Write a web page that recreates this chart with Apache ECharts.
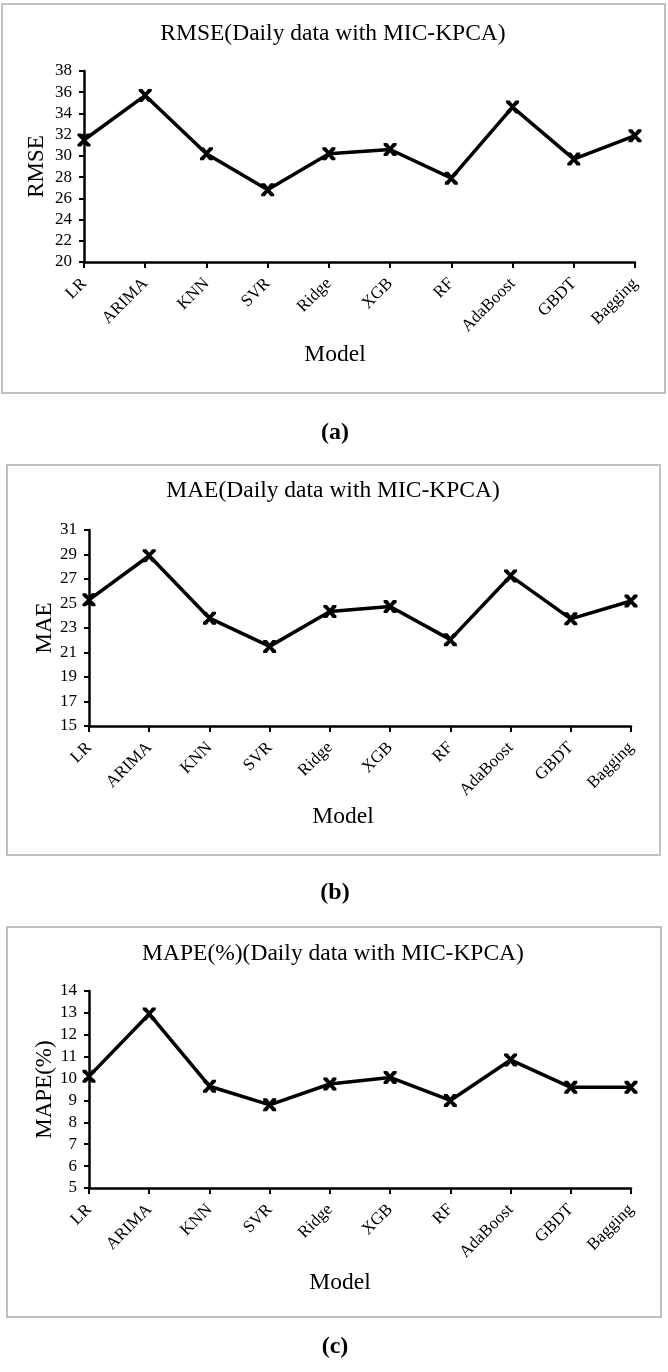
<!DOCTYPE html>
<html>
<head>
<meta charset="utf-8">
<script src="https://cdn.jsdelivr.net/npm/echarts@6/dist/echarts.min.js"></script>
<style>
html,body{margin:0;padding:0;background:#fff;}
#chart{width:668px;height:1372px;}
</style>
</head>
<body>
<div id="chart"></div>
<script>
// ---- data ----
const models = ['LR','ARIMA','KNN','SVR','Ridge','XGB','RF','AdaBoost','GBDT','Bagging'];
const rmse = [31.5, 35.7, 30.2, 26.8, 30.2, 30.6, 27.9, 34.6, 29.7, 31.9];
const mae  = [25.3, 28.9, 23.8, 21.5, 24.35, 24.75, 22.05, 27.25, 23.75, 25.2];
const mape = [10.1, 12.95, 9.65, 8.8, 9.75, 10.05, 9.0, 10.85, 9.6, 9.6];
const rmseTicks = [20,22,24,26,28,30,32,34,36,38];
const maeTicks  = [15,17,19,21,23,25,27,29,31];
const mapeTicks = [5,6,7,8,9,10,11,12,13,14];
const titles = ['RMSE(Daily data with MIC-KPCA)','MAE(Daily data with MIC-KPCA)','MAPE(%)(Daily data with MIC-KPCA)'];
const yNames = ['RMSE','MAE','MAPE(%)'];
const xName = 'Model';
const captions = ['(a)','(b)','(c)'];

const FONT = '"Liberation Serif","Times New Roman",serif';
const xMark = 'path://M0,0 L2.8,0 L5,2.7 L7.2,0 L10,0 L10,1.8 L6.6,5 L10,8.2 L10,10 L7.2,10 L5,7.3 L2.8,10 L0,10 L0,8.2 L3.4,5 L0,1.8 Z';

const layout = [
  {grid:{left:84, top:71, width:551, height:191}, title:34, frame:[2,4,663,389], model:[335,355], cap:[335,433], gap:36},
  {grid:{left:89, top:530, width:542, height:196}, title:491, frame:[7,465,653,390], model:[343,817], cap:[335,893], gap:33},
  {grid:{left:89, top:991, width:542, height:197}, title:954, frame:[7,927,654,390], model:[340,1283], cap:[335,1347], gap:33}
];
const series = [rmse, mae, mape];
const ticks = [rmseTicks, maeTicks, mapeTicks];

const option = {
  backgroundColor:'#fff',
  animation:false,
  grid: layout.map(l => Object.assign({containLabel:false}, l.grid)),
  xAxis: layout.map((l,i) => ({
    type:'category', gridIndex:i, data:models, boundaryGap:false,
    axisLine:{lineStyle:{color:'#000', width:2.5}},
    axisTick:{show:true, inside:false, length:6, lineStyle:{color:'#000', width:2}},
    axisLabel:{interval:0, rotate:45, margin:19, color:'#000', fontSize:17, fontFamily:FONT},
    splitLine:{show:false}
  })),
  yAxis: layout.map((l,i) => ({
    type:'value', gridIndex:i,
    min: ticks[i][0], max: ticks[i][ticks[i].length-1],
    name: yNames[i], nameLocation:'middle', nameGap: l.gap, nameMoveOverlap:false,
    nameTextStyle:{color:'#000', fontSize:23, fontFamily:FONT},
    axisLine:{show:true, lineStyle:{color:'#000', width:2.5}},
    axisTick:{show:true, length:5, lineStyle:{color:'#000', width:2}, customValues: ticks[i]},
    axisLabel:{color:'#000', fontSize:17, fontFamily:FONT, margin:12, customValues: ticks[i]},
    splitLine:{show:false}
  })),
  series: series.map((d,i) => ({
    type:'line', xAxisIndex:i, yAxisIndex:i, data:d,
    symbol:xMark, symbolSize:13, showSymbol:true,
    lineStyle:{color:'#000', width:3.5},
    itemStyle:{color:'#000'},
    z:5
  })),
  graphic: [].concat(
    layout.map(l => ({type:'rect', z:-10, shape:{x:l.frame[0], y:l.frame[1], width:l.frame[2], height:l.frame[3]},
      style:{fill:'#fff', stroke:'#c0c0c0', lineWidth:2}})),
    layout.map((l,i) => ({type:'text', x:333, y:l.title, style:{text:titles[i], fill:'#000', font:'23.5px '+FONT, textAlign:'center', textVerticalAlign:'middle'}})),
    layout.map(l => ({type:'text', x:l.model[0], y:l.model[1], style:{text:xName, fill:'#000', font:'23.5px '+FONT, textAlign:'center', textVerticalAlign:'middle'}})),
    layout.map((l,i) => ({type:'text', x:l.cap[0], y:l.cap[1], style:{text:captions[i], fill:'#000', font:'bold 24px '+FONT, textAlign:'center', textVerticalAlign:'middle'}}))
  )
};
const chart = echarts.init(document.getElementById('chart'), null, {renderer:'canvas'});
chart.setOption(option);
</script>
</body>
</html>
